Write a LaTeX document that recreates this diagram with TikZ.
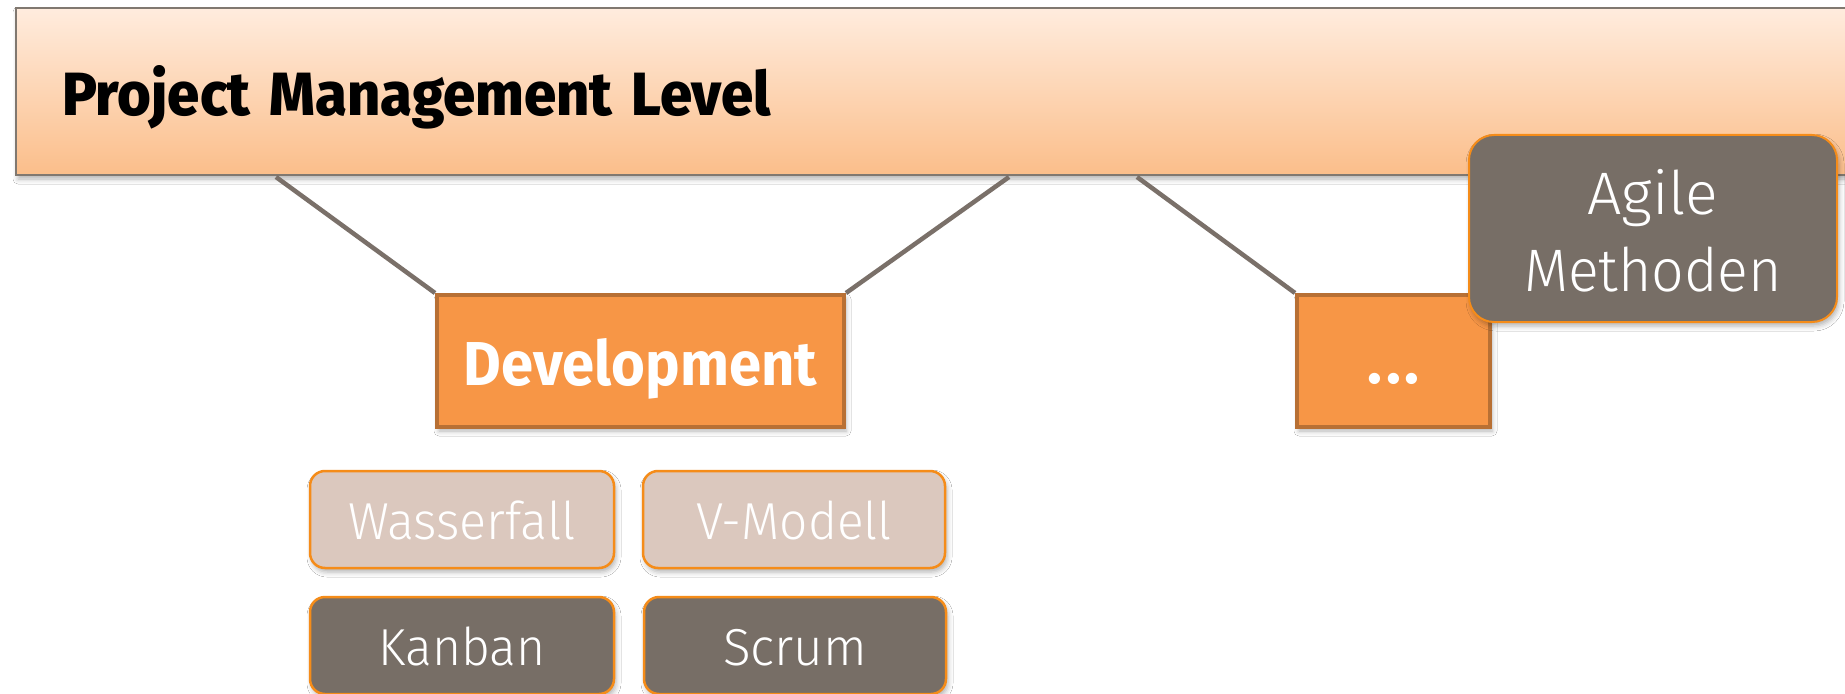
\documentclass[tikz,border=0pt]{standalone}
\usepackage{fontspec}
\setmainfont{Fira Sans}
\newfontfamily\lightf{Fira Sans Light}
\newfontfamily\heavyf{Fira Sans ExtraBold}[BoldFont=Fira Sans ExtraBold]
\usetikzlibrary{shadows.blur}
\definecolor{orfill}{RGB}{247,150,70}
\definecolor{orline}{RGB}{184,112,52}
\definecolor{grayfill}{RGB}{119,110,102}
\definecolor{lightfill}{RGB}{219,200,190}
\definecolor{orborder}{RGB}{245,140,25}
\definecolor{conn}{RGB}{122,112,105}
\definecolor{topline}{RGB}{128,120,112}
\definecolor{toptop}{RGB}{255,236,222}
\definecolor{topbot}{RGB}{251,190,138}
\newcommand\fw[2]{\resizebox{#1}{\height}{#2}}
\begin{document}
\begin{tikzpicture}[x=1bp,y=-1bp,
  shad/.style={blur shadow={shadow xshift=2bp,shadow yshift=-4bp,shadow blur radius=5bp,shadow opacity=30}},
  topbox/.style={draw=topline,line width=2bp,top color=toptop,bottom color=topbot,shad,
    minimum height=167bp,text width=1753bp,inner xsep=46bp,inner ysep=0pt,align=left,
    font=\heavyf\fontsize{61bp}{61bp}\selectfont,text height=47bp,text depth=0pt,anchor=north west},
  levelbox/.style={rectangle,fill=orfill,draw=orline,line width=4bp,minimum height=132bp,
    inner sep=0pt,text=white,font=\bfseries\fontsize{62bp}{62bp}\selectfont,text depth=0pt,shad},
  agilebox/.style={rectangle,rounded corners=25bp,fill=grayfill,draw=orborder,line width=2bp,
    minimum width=368bp,minimum height=187bp,inner sep=0pt,text=white,
    font=\lightf\fontsize{60bp}{77bp}\selectfont,shad},
  methbox/.style={rectangle,rounded corners=15bp,draw=orborder,line width=2.5bp,
    minimum width=304bp,minimum height=97bp,inner sep=0pt,text=white,
    font=\lightf\fontsize{52bp}{52bp}\selectfont,text height=39bp,text depth=0pt,shad},
  lightbox/.style={methbox,fill=lightfill},
  darkbox/.style={methbox,fill=grayfill},
  connector/.style={draw=conn,line width=4.5bp}
]
\useasboundingbox (0,0) rectangle (1845,694);
\fill[white] (0,0) rectangle (1845,694);

\node[topbox] (top) at (15,7) {\fw{709bp}{Project Management Level}};

\path (top.south west) ++(261,1) coordinate (c1);
\path (top.south west) ++(994,1) coordinate (c2);
\path (top.south west) ++(1122,1) coordinate (c3);

\node[levelbox,minimum width=407bp,text height=48bp] (dev) at (640.5,361) {\fw{353bp}{Development}};
\node[levelbox,minimum width=193bp,text height=44bp] (dots) at (1393.5,361) {.\kern4bp.\kern4bp.};

\draw[connector] (c1) -- (dev.north west);
\draw[connector] (c2) -- (dev.north east);
\draw[connector] (c3) -- (dots.north west);

\node[agilebox] (agile) at (1653,228.5) {\raisebox{0pt}[48bp][77bp]{\vtop{\baselineskip=77bp\lineskiplimit=-200bp
  \hbox to 270bp{\hss\fw{131bp}{Agile}\hss}\hbox to 270bp{\hss\fw{258bp}{Methoden}\hss}}}};

\node[lightbox] (wf) at (462,519.5) {\fw{228bp}{Wasserfall}};
\node[lightbox,minimum width=302bp] (vm) at (794,519.5) {\fw{196bp}{V-Modell}};
\node[darkbox] (kb) at (462,645.5) {\fw{167bp}{Kanban}};
\node[darkbox,minimum width=302bp] (sc) at (795,645.5) {\fw{144bp}{Scrum}};
\end{tikzpicture}
\end{document}
